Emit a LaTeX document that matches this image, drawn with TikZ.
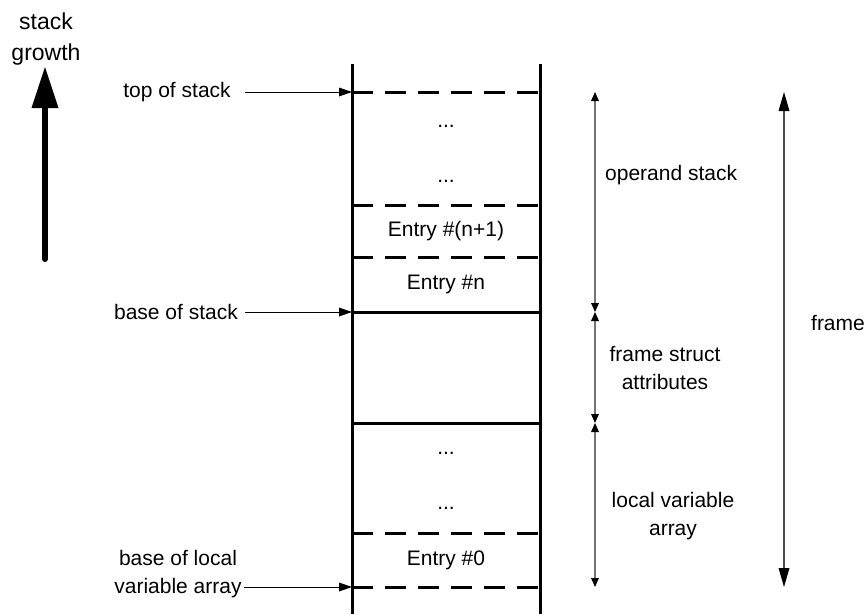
\documentclass[tikz,border=0pt]{standalone}
\usepackage{fontspec}
\setmainfont{Liberation Sans}
\usetikzlibrary{arrows.meta}
\begin{document}
\begin{tikzpicture}[x=1pt,y=-1pt,
  lbl/.style={font=\fontsize{21}{28}\selectfont, inner sep=0pt, align=center},
  wall/.style={line width=3pt},
  solidsep/.style={line width=3pt},
  dashsep/.style={line width=3pt, dash pattern=on 21pt off 12pt},
  ptr/.style={line width=1pt, -{Triangle[length=13pt,width=9pt,line width=0pt]}},
  dimline/.style={line width=1.5pt, draw=black!55,
    {Triangle[length=9pt,width=8pt,color=black,line width=0pt]}-{Triangle[length=9pt,width=8pt,color=black,line width=0pt]}},
  bigdim/.style={line width=1.5pt, draw=black!70,
    {Triangle[length=19pt,width=11pt,color=black,line width=0pt]}-{Triangle[length=19pt,width=11pt,color=black,line width=0pt]}},
  growshaft/.style={line width=6pt, line cap=round},
  growhead/.style={fill=black}
]
\useasboundingbox (0,0) rectangle (865,614);

% column walls
\coordinate (wlt) at (352,64);  \coordinate (wlb) at (352,614);
\coordinate (wrt) at (540,64);  \coordinate (wrb) at (540,614);
\draw[wall] (wlt) -- (wlb);
\draw[wall] (wrt) -- (wrb);

% slot boundaries
\coordinate (l0) at (352,92);   \coordinate (r0) at (540,92);
\coordinate (l1) at (352,205);  \coordinate (r1) at (540,205);
\coordinate (l2) at (352,257);  \coordinate (r2) at (540,257);
\coordinate (l3) at (352,312);  \coordinate (r3) at (540,312);
\coordinate (l4) at (352,423);  \coordinate (r4) at (540,423);
\coordinate (l5) at (352,533);  \coordinate (r5) at (540,533);
\coordinate (l6) at (352,587);  \coordinate (r6) at (540,587);
\draw[dashsep] (l0) -- (r0);
\draw[dashsep] (l1) -- (r1);
\draw[dashsep] (l2) -- (r2);
\draw[solidsep] (l3) -- (r3);
\draw[solidsep] (l4) -- (r4);
\draw[dashsep] (l5) -- (r5);
\draw[dashsep] (l6) -- (r6);

% slot contents
\node[lbl, anchor=base] (d1) at (446,127) {...};
\node[lbl, anchor=base] (d2) at (446,182) {...};
\node[lbl] (en1) at (446,231) {Entry \#(n+1)};
\node[lbl] (en) at (446,284) {Entry \#n};
\node[lbl, anchor=base] (d3) at (446,454) {...};
\node[lbl, anchor=base] (d4) at (446,509) {...};
\node[lbl] (e0) at (446,560) {Entry \#0};

% pointers on the left
\node[lbl] (tos) at (177,92) {top of stack};
\node[lbl] (bos) at (176,312) {base of stack};
\node[lbl] (blv) at (178,574) {base of local\\variable array};
\draw[ptr] ([xshift=14pt]tos.east) -- (l0);
\draw[ptr] ([xshift=7pt]bos.east |- l3) -- (l3);
\draw[ptr] ([xshift=2pt]blv.east |- l6) -- (l6);

% growth direction
\node[lbl, font=\fontsize{23}{31}\selectfont] (sg) at (46,39) {stack\\growth};
\coordinate (gb) at (45,259);
\coordinate (gk) at (45,104);
\coordinate (gt) at (45,67);
\draw[growshaft] (gb) -- (gk);
\fill[growhead] (gt) -- ([xshift=13.5pt,yshift=-41pt]gt) -- ([xshift=-13.5pt,yshift=-41pt]gt) -- cycle;

% region extents on the right
\coordinate (o1) at (595,92);   \coordinate (o2) at (595,312);
\coordinate (f1) at (595,312);  \coordinate (f2) at (595,423);
\coordinate (v1) at (595,423);  \coordinate (v2) at (595,587);
\draw[dimline] (o2) -- (o1);
\draw[dimline] (f2) -- (f1);
\draw[dimline] (v2) -- (v1);
\node[lbl, anchor=west] (ops) at (605,175) {operand stack};
\node[lbl] (fsa) at (665,368) {frame struct\\attributes};
\node[lbl] (lva) at (673,516) {local variable\\array};

\coordinate (fr1) at (784,92);  \coordinate (fr2) at (784,587);
\draw[bigdim] (fr2) -- (fr1);
\node[lbl] (fr) at (838,323) {frame};
\end{tikzpicture}
\end{document}
